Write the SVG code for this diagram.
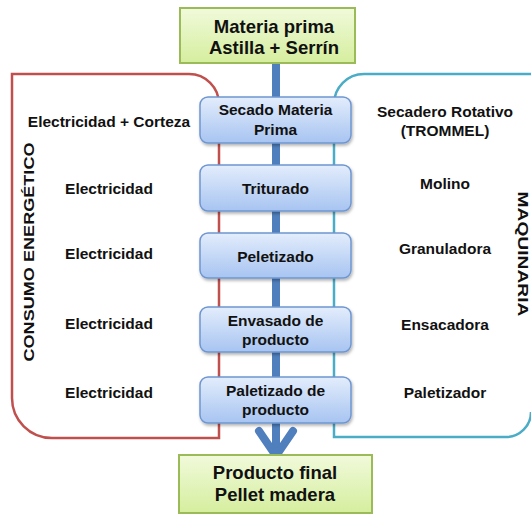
<svg xmlns="http://www.w3.org/2000/svg" width="531" height="515" viewBox="0 0 531 515">
<defs>
<linearGradient id="gGreen" x1="0" y1="0" x2="0" y2="1">
<stop offset="0" stop-color="#f1fadb"/>
<stop offset="1" stop-color="#d5ee9e"/>
</linearGradient>
<linearGradient id="gBlue" x1="0" y1="0" x2="0" y2="1">
<stop offset="0" stop-color="#e3edfc"/>
<stop offset="1" stop-color="#a7c4f1"/>
</linearGradient>
<filter id="sh" x="-10%" y="-10%" width="125%" height="135%">
<feDropShadow dx="1" dy="2" stdDeviation="1.5" flood-color="#000" flood-opacity="0.3"/>
</filter>
</defs>
<style>
text{font-family:"Liberation Sans",Arial,sans-serif;font-weight:bold;fill:#111;text-anchor:middle}
.t{font-size:18.5px}
.p{font-size:15.5px}
.l{font-size:15.5px}
.green{fill:url(#gGreen);stroke:#9bbb59;stroke-width:2}
.proc{fill:url(#gBlue);stroke:#6f96d0;stroke-width:1.5;filter:url(#sh)}
</style>
<rect width="531" height="515" fill="#fff"/>
<g id="consumo-energetico">
<path d="M12 74 H189 A30 30 0 0 1 219 104 V438 H52 A40 40 0 0 1 12 398 Z" fill="none" stroke="#c0504d" stroke-width="2.5"/>
<text class="l" transform="translate(34 252) rotate(-90)" textLength="219" lengthAdjust="spacingAndGlyphs">CONSUMO ENERGÉTICO</text>
<text class="l" x="109" y="127">Electricidad + Corteza</text>
<text class="l" x="109" y="194">Electricidad</text>
<text class="l" x="109" y="259">Electricidad</text>
<text class="l" x="109" y="329">Electricidad</text>
<text class="l" x="109" y="398">Electricidad</text>
</g>
<g id="maquinaria">
<path d="M540 74 H364 A30 30 0 0 0 334 104 V437 H506 A25 25 0 0 0 531 412" fill="none" stroke="#4bacc6" stroke-width="2.5"/>
<text class="l" transform="translate(518 254) rotate(90)" textLength="125" lengthAdjust="spacingAndGlyphs">MAQUINARIA</text>
<text class="l" x="445" y="117">Secadero Rotativo</text>
<text class="l" x="445" y="136">(TROMMEL)</text>
<text class="l" x="445" y="189">Molino</text>
<text class="l" x="445" y="254">Granuladora</text>
<text class="l" x="445" y="330">Ensacadora</text>
<text class="l" x="445" y="398">Paletizador</text>
</g>
<g id="connectors">
<path d="M276 60 V452" stroke="#4f7fbd" stroke-width="8" fill="none"/>
<path d="M259 431 L276 456 L293 431" stroke="#4f7fbd" stroke-width="8" fill="none" stroke-linecap="round" stroke-linejoin="miter"/>
</g>
<g id="materia-prima">
<rect class="green" x="180" y="8" width="175" height="55"/>
<text class="t" x="274" y="33">Materia prima</text>
<text class="t" x="274" y="54">Astilla + Serrín</text>
</g>
<g id="secado">
<rect class="proc" x="200" y="97" width="151" height="46" rx="8"/>
<text class="p" x="275.5" y="115">Secado Materia</text>
<text class="p" x="275.5" y="135">Prima</text>
</g>
<g id="triturado">
<rect class="proc" x="200" y="165" width="151" height="46" rx="8"/>
<text class="p" x="275.5" y="193.5">Triturado</text>
</g>
<g id="peletizado">
<rect class="proc" x="200" y="233" width="151" height="45" rx="8"/>
<text class="p" x="275.5" y="261.5">Peletizado</text>
</g>
<g id="envasado">
<rect class="proc" x="200" y="307" width="151" height="45" rx="8"/>
<text class="p" x="275.5" y="326">Envasado de</text>
<text class="p" x="275.5" y="345">producto</text>
</g>
<g id="paletizado">
<rect class="proc" x="200" y="377" width="151" height="46" rx="8"/>
<text class="p" x="275.5" y="395.5">Paletizado de</text>
<text class="p" x="275.5" y="414.5">producto</text>
</g>
<g id="producto-final">
<rect class="green" x="179" y="455" width="193" height="58"/>
<text class="t" x="275" y="479">Producto final</text>
<text class="t" x="275" y="501">Pellet madera</text>
</g>
</svg>
